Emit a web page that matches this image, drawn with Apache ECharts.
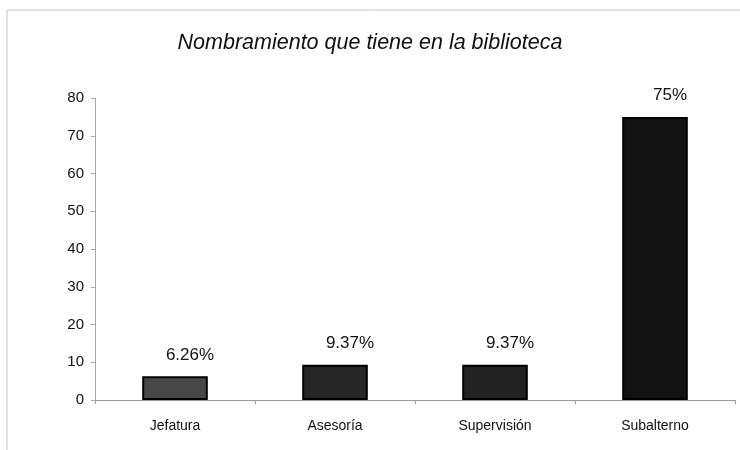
<!DOCTYPE html>
<html>
<head>
<meta charset="utf-8">
<script src="https://cdn.jsdelivr.net/npm/echarts@6/dist/echarts.min.js"></script>
<style>
  html, body { margin: 0; padding: 0; background: #fff; }
  #chart { width: 740px; height: 450px; }
</style>
</head>
<body>
<div id="chart"></div>
<script>
// Cargo held in the library (percentages)
const categories = ['Jefatura', 'Asesoría', 'Supervisión', 'Subalterno'];
const values = [6.26, 9.37, 9.37, 75];
const valueLabels = ['6.26%', '9.37%', '9.37%', '75%'];
const barColors = ['#474747', '#262626', '#222222', '#121212'];

const chart = echarts.init(document.getElementById('chart'), null, { renderer: 'canvas' });
const font = 'Liberation Sans, Arial, sans-serif';

chart.setOption({
  animation: false,
  backgroundColor: '#fff',
  title: {
    text: 'Nombramiento que tiene en la biblioteca',
    left: 'center',
    top: 27,
    textStyle: { fontFamily: font, fontStyle: 'italic', fontWeight: 'normal', fontSize: 21.5, color: '#111' }
  },
  graphic: [
    { type: 'line', shape: { x1: 7, y1: 10, x2: 740, y2: 10 }, style: { stroke: '#c4c4c4', lineWidth: 1 } },
    { type: 'line', shape: { x1: 7, y1: 10, x2: 7, y2: 450 }, style: { stroke: '#c4c4c4', lineWidth: 1 } }
  ],
  grid: { left: 95, right: 5, top: 98, bottom: 50 },
  xAxis: {
    type: 'category',
    data: categories,
    axisLine: { lineStyle: { color: '#9a9a9a', width: 1 } },
    axisTick: { show: true, length: 4, lineStyle: { color: '#9a9a9a' } },
    axisLabel: { fontFamily: font, fontSize: 14, color: '#111', margin: 19 }
  },
  yAxis: {
    type: 'value',
    min: 0,
    max: 80,
    interval: 10,
    splitLine: { show: false },
    axisLine: { show: true, lineStyle: { color: '#a8a8a8', width: 1 } },
    axisTick: { show: true, length: 4, lineStyle: { color: '#a8a8a8' } },
    axisLabel: { fontFamily: font, fontSize: 15, color: '#111', margin: 11 }
  },
  series: [{
    type: 'bar',
    barWidth: '41%',
    data: values.map((v, i) => ({
      value: v,
      itemStyle: { color: barColors[i] }
    })),
    itemStyle: { borderColor: '#000', borderWidth: 2 },
    label: {
      show: true,
      position: 'top',
      distance: 13,
      offset: [15, 0],
      formatter: p => valueLabels[p.dataIndex],
      fontFamily: font,
      fontSize: 17,
      color: '#111'
    }
  }]
});
</script>
</body>
</html>
